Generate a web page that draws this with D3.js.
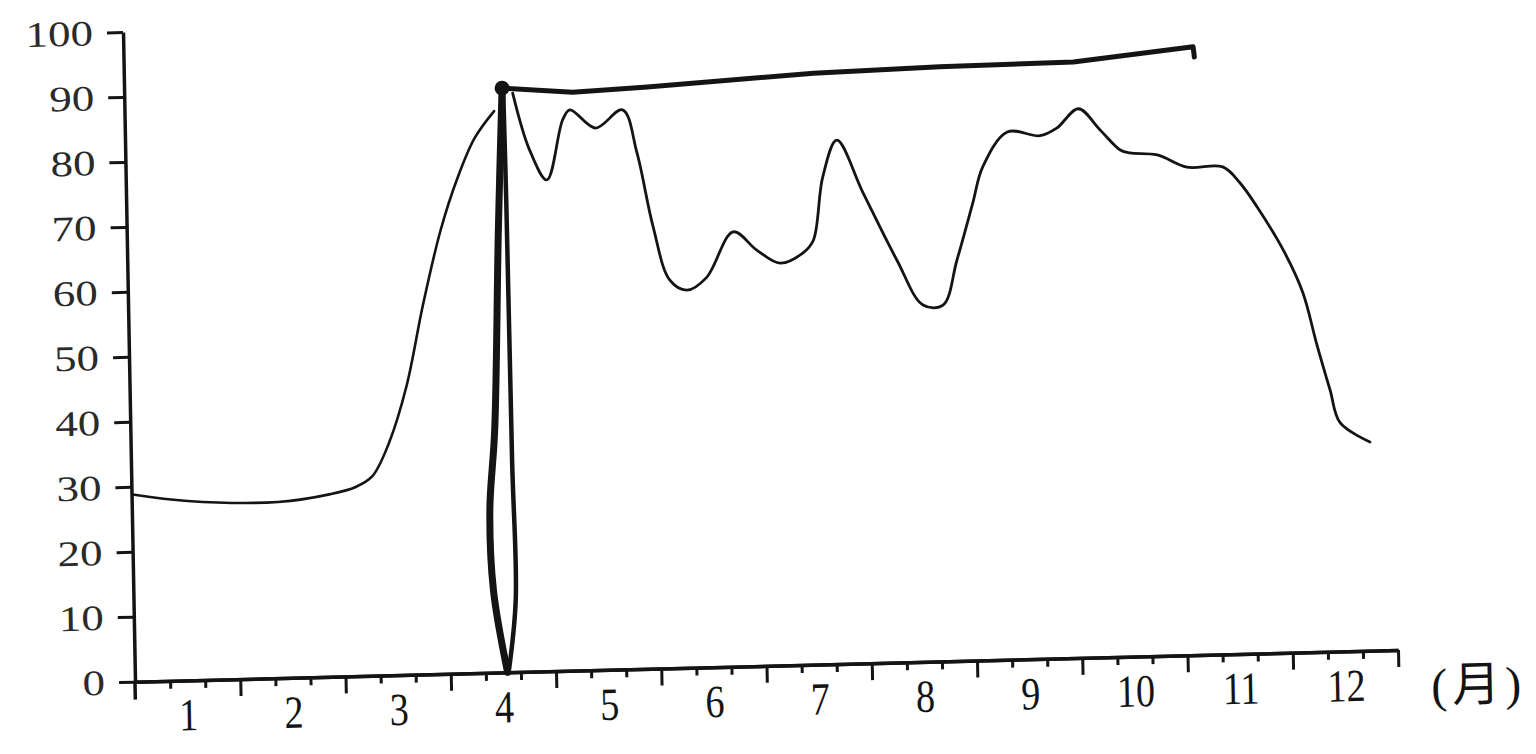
<!DOCTYPE html>
<html>
<head>
<meta charset="utf-8">
<script src="https://cdn.jsdelivr.net/npm/d3@7"></script>
<style>
html,body{margin:0;padding:0;background:#fff;}
svg{display:block;}
</style>
</head>
<body>
<svg id="chart" width="1536" height="754"></svg>
<script>
// ---- data ----
const monthLabels = ["1","2","3","4","5","6","7","8","9","10","11","12"];
const yTickValues = [0,10,20,30,40,50,60,70,80,90,100];
const unitLabel = "(月)";

// thin curve, months 1–4 (x in month units from axis origin)
const riseX = [0.01,0.53,1.39,1.89,2.13,2.29,2.45,2.63,2.80,2.98,3.15,3.32,3.51];
const riseY = [28.8,27.6,27.1,28.1,29.1,30.7,35.6,44.4,56.8,68.2,76.2,82.3,86.4];

// thin curve after month 4
const fluctX = [3.69,3.84,4.00,4.16,4.23,4.47,4.73,4.86,5.00,5.15,5.31,5.50,5.76,5.98,6.20,6.42,6.52,6.62,6.76,7.00,7.31,7.55,7.74,7.88,8.04,8.14,8.38,8.69,8.85,9.06,9.26,9.45,9.54,9.80,10.08,10.42,10.58,10.74,10.98,11.16,11.28,11.40,11.49,11.77];
const fluctY = [89.1,80.3,75.6,84.8,86.3,83.4,86.1,79.4,68.0,59.7,58.1,60.0,66.9,64.0,61.9,63.4,65.3,75.0,80.6,72.4,61.9,54.9,54.8,61.7,70.4,75.9,81.2,80.5,81.6,84.5,81.2,78.0,77.5,77.1,75.1,75.0,72.5,68.7,62.0,55.3,47.5,40.3,35.2,32.1];

// thick upper line
const topX = [3.59,4.26,4.97,6.55,7.75,9.02,10.16,10.17];
const topY = [89.9,89.0,89.5,91.0,91.5,91.7,93.6,92.0];

// thick drop near month 4 (two strokes)
const dropLeftX = [3.59,3.53,3.46,3.40,3.42,3.54];
const dropLeftY = [89.9,68.1,37.3,25.0,12.7,0];
const dropRightX = [3.60,3.61,3.62,3.63,3.55];
const dropRightY = [89.9,72.7,32.6,11.1,0];

// ---- drawing ----
const W = 1263, H = 650;
const svg = d3.select("#chart");
const g = svg.append("g")
  .attr("transform", "matrix(1,-0.0251,0.01846,0.9995,123,32)");

const x = d3.scaleLinear().domain([0,12]).range([0,W]);
const y = d3.scaleLinear().domain([0,100]).range([H,0]);

const ink = "#141414";

// x axis line + ticks
const minorTicks = d3.range(0, 36).map(i => i/3).filter(v => v > 0 && Math.abs(v - Math.round(v)) > 1e-6);
const majorTicks = d3.range(1, 13);

const xMinor = d3.axisBottom(x).tickValues(minorTicks).tickSize(8).tickFormat("").tickSizeOuter(0);
const xMajor = d3.axisBottom(x).tickValues(majorTicks).tickSize(17).tickFormat("").tickSizeOuter(0);
const gxMinor = g.append("g").attr("transform", `translate(0,${H})`).call(xMinor);
const gxMajor = g.append("g").attr("transform", `translate(0,${H})`).call(xMajor);
[gxMinor, gxMajor].forEach(s => {
  s.selectAll(".tick line").attr("stroke", ink).attr("stroke-width", 3);
  s.select(".domain").attr("stroke", ink).attr("stroke-width", 3.5);
});

// month labels (centred in each month)
const labelPos = monthLabels.map((d,i) => i + 0.5);
const xLab = d3.axisBottom(x).tickValues(labelPos).tickSize(0).tickPadding(0)
  .tickFormat((d,i) => monthLabels[i]);
const gxLab = g.append("g").attr("transform", `translate(0,${H})`).call(xLab);
gxLab.select(".domain").remove();
gxLab.selectAll(".tick text")
  .attr("y", 0).attr("dy", 0)
  .attr("font-family", "'Liberation Serif', 'DejaVu Serif', serif")
  .attr("font-size", 46)
  .attr("fill", ink)
  .attr("transform", "translate(0,50) scale(0.83,1)");

// unit label
g.append("text")
  .attr("transform", `translate(${W+80},${H+36})`)
  .attr("text-anchor", "middle")
  .attr("dy", "0.35em")
  .attr("font-family", "'Liberation Serif', 'Noto Sans CJK SC', serif")
  .attr("font-size", 48)
  .attr("letter-spacing", 5)
  .attr("fill", ink)
  .text(unitLabel);

// y axis
const yAx = d3.axisLeft(y).tickValues(yTickValues).tickSize(16).tickFormat("").tickSizeOuter(0);
const gy = g.append("g").call(yAx);
gy.selectAll(".tick line").attr("stroke", ink).attr("stroke-width", 3);
gy.select(".domain").attr("stroke", ink).attr("stroke-width", 3.5);
// y axis extension below the x axis
g.append("line")
  .attr("x1", x(0)).attr("x2", x(0))
  .attr("y1", y(0)).attr("y2", y(0) + 18)
  .attr("stroke", ink).attr("stroke-width", 3.5);

// y labels
const yl = g.append("g").selectAll("g").data(yTickValues).join("g")
  .attr("transform", d => `translate(-30,${y(d)})`);
yl.append("text")
  .attr("text-anchor", "end")
  .attr("dy", "0.35em")
  .attr("transform", "scale(1.25,1)")
  .attr("font-family", "'Liberation Serif', 'DejaVu Serif', serif")
  .attr("font-size", 36)
  .attr("fill", "#2a2a2a")
  .text(d => d);

// lines
const smooth = d3.line().x(d => x(d[0])).y(d => y(d[1])).curve(d3.curveCatmullRom.alpha(0.5));
const straight = d3.line().x(d => x(d[0])).y(d => y(d[1]));
const zip = (a,b) => a.map((v,i) => [v, b[i]]);

g.append("path").datum(zip(riseX, riseY))
  .attr("d", smooth).attr("fill", "none").attr("stroke", ink).attr("stroke-width", 2.6)
  .attr("stroke-linejoin", "round").attr("stroke-linecap", "round");

g.append("path").datum(zip(fluctX, fluctY))
  .attr("d", smooth).attr("fill", "none").attr("stroke", ink).attr("stroke-width", 2.8)
  .attr("stroke-linejoin", "round").attr("stroke-linecap", "round");

g.append("path").datum(zip(topX, topY))
  .attr("d", straight).attr("fill", "none").attr("stroke", ink).attr("stroke-width", 5)
  .attr("stroke-linejoin", "round").attr("stroke-linecap", "round");

g.append("path").datum(zip(dropLeftX, dropLeftY))
  .attr("d", smooth).attr("fill", "none").attr("stroke", ink).attr("stroke-width", 7)
  .attr("stroke-linejoin", "round").attr("stroke-linecap", "round");

g.append("path").datum(zip(dropRightX, dropRightY))
  .attr("d", smooth).attr("fill", "none").attr("stroke", ink).attr("stroke-width", 4.5)
  .attr("stroke-linejoin", "round").attr("stroke-linecap", "round");

g.append("circle")
  .attr("cx", x(topX[0])).attr("cy", y(topY[0])).attr("r", 7.5)
  .attr("fill", ink);
</script>
</body>
</html>
